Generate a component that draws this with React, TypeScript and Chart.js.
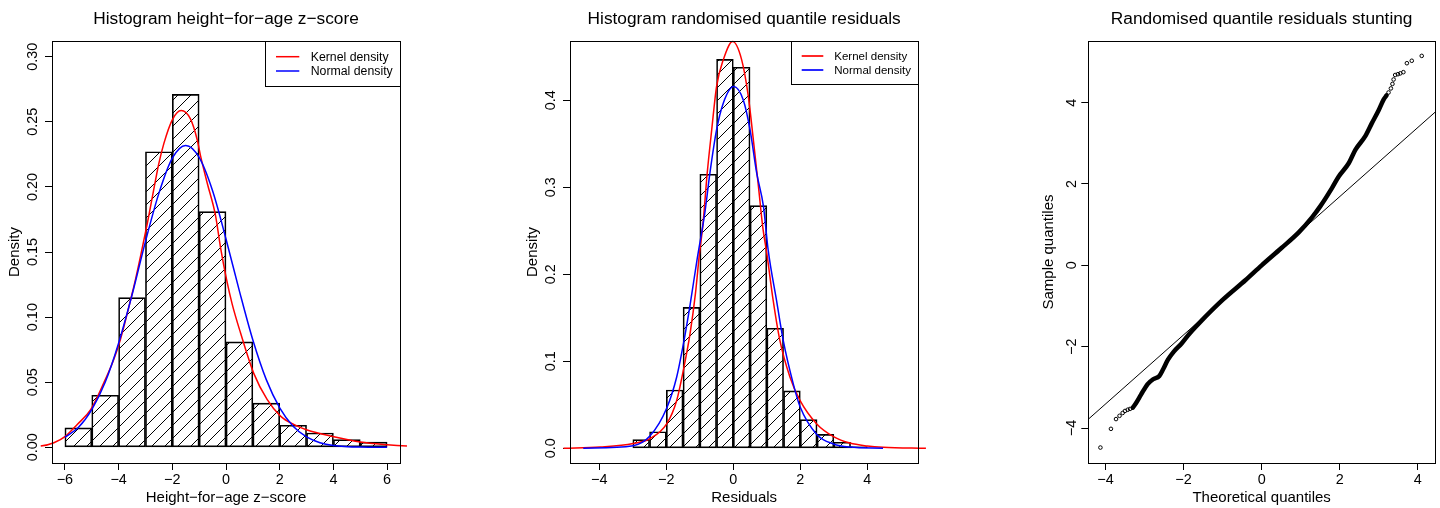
import React, { useEffect, useRef } from "react";
import { Chart, registerables } from "chart.js";

Chart.register(...registerables);

const FONT = "'Liberation Sans', Arial, Helvetica, sans-serif";

// ---------------- Panel 1: height-for-age z-score ----------------
const hazBreaks = [-6, -5, -4, -3, -2, -1, 0, 1, 2, 3, 4, 5, 6];
const hazDensity = [0.015, 0.04, 0.115, 0.227, 0.271, 0.181, 0.081, 0.034, 0.017, 0.011, 0.006, 0.004];
const hazKernelX = [-7.6, -6.9, -6.41, -5.97, -5.54, -5.04, -4.55, -4.18, -3.93, -3.55, -3.37, -3.18, -2.93, -2.69, -2.5, -2.31, -2.0, -1.67, -1.32, -1.07, -0.95, -0.7, -0.39, -0.2, 0.02, 0.23, 0.54, 1.03, 1.53, 2.03, 2.52, 3.02, 4.01, 5.0, 6.0, 6.74, 7.57];
const hazKernelY = [0.0003, 0.001, 0.0036, 0.0087, 0.0176, 0.029, 0.0496, 0.0675, 0.083, 0.1135, 0.129, 0.147, 0.172, 0.198, 0.218, 0.2336, 0.2515, 0.2586, 0.252, 0.236, 0.224, 0.203, 0.178, 0.153, 0.129, 0.11, 0.088, 0.057, 0.0368, 0.024, 0.0176, 0.0133, 0.0082, 0.0041, 0.002, 0.001, 0.0005];
const hazNormalX = [-6.0, -5.5, -5.0, -4.5, -4.0, -3.5, -3.0, -2.5, -2.0, -1.5, -1.0, -0.5, 0.0, 0.5, 1.0, 1.5, 2.0, 2.5, 3.0, 3.5, 4.0, 5.0, 6.0];
const hazNormalY = [0.0078, 0.0152, 0.029, 0.05, 0.08, 0.117, 0.158, 0.195, 0.222, 0.2318, 0.2226, 0.197, 0.16, 0.12, 0.0824, 0.052, 0.0304, 0.0162, 0.008, 0.0036, 0.0015, 0.0002, 0.00002];
const hazXTicks = [-6, -4, -2, 0, 2, 4, 6];
const hazXLabels = ["\u22126", "\u22124", "\u22122", "0", "2", "4", "6"];
const hazYTicks = [0, 0.05, 0.1, 0.15, 0.2, 0.25, 0.3];
const hazYLabels = ["0.00", "0.05", "0.10", "0.15", "0.20", "0.25", "0.30"];

// ---------------- Panel 2: randomised quantile residuals ----------------
const resBreaks = [-3, -2.5, -2, -1.5, -1, -0.5, 0, 0.5, 1, 1.5, 2, 2.5, 3, 3.5, 4];
const resDensity = [0.01, 0.019, 0.067, 0.162, 0.315, 0.447, 0.438, 0.279, 0.138, 0.066, 0.033, 0.016, 0.007, 0.002];
const resKernelX = [-5.07, -3.98, -2.99, -2.49, -1.99, -1.69, -1.49, -1.29, -1.13, -1.01, -0.91, -0.78, -0.645, -0.5, -0.3, -0.02, 0.25, 0.45, 0.6, 0.75, 0.88, 1.0, 1.19, 1.39, 1.69, 1.99, 2.49, 2.99, 3.48, 4.0, 4.47, 5.75];
const resKernelY = [0.0, 0.0015, 0.0054, 0.011, 0.028, 0.055, 0.09, 0.132, 0.178, 0.224, 0.256, 0.316, 0.366, 0.4158, 0.4465, 0.4676, 0.4465, 0.404, 0.354, 0.301, 0.254, 0.224, 0.17, 0.124, 0.082, 0.055, 0.028, 0.0135, 0.006, 0.0027, 0.0012, 0.0];
const resNormalX = [-4.48, -2.99, -2.49, -1.99, -1.69, -1.49, -1.29, -1.09, -0.845, -0.7, -0.5, -0.3, 0.01, 0.3, 0.5, 0.7, 0.9, 1.04, 1.29, 1.49, 1.79, 1.99, 2.49, 2.99, 3.48, 4.47];
const resNormalY = [0.0, 0.003, 0.014, 0.046, 0.082, 0.12, 0.165, 0.215, 0.272, 0.316, 0.366, 0.3967, 0.4158, 0.4, 0.366, 0.316, 0.278, 0.228, 0.17, 0.124, 0.074, 0.048, 0.016, 0.005, 0.0014, 0.0];
const resXTicks = [-4, -2, 0, 2, 4];
const resXLabels = ["\u22124", "\u22122", "0", "2", "4"];
const resYTicks = [0, 0.1, 0.2, 0.3, 0.4];
const resYLabels = ["0.0", "0.1", "0.2", "0.3", "0.4"];

// ---------------- Panel 3: QQ plot ----------------
const qqBandX = [-3.3, -3.22, -3.09, -2.92, -2.78, -2.62, -2.52, -2.4, -2.25, -2.05, -1.85, -1.6, -1.0, -0.41, 0.0, 0.5, 0.95, 1.29, 1.5, 1.8, 1.97, 2.23, 2.4, 2.65, 2.82, 3.0, 3.12, 3.2];
const qqBandY = [-3.5, -3.39, -3.18, -2.92, -2.8, -2.72, -2.55, -2.32, -2.12, -1.92, -1.68, -1.42, -0.85, -0.36, 0.0, 0.42, 0.81, 1.18, 1.45, 1.9, 2.18, 2.51, 2.84, 3.17, 3.49, 3.82, 4.07, 4.18];
const qqTailX = [-4.13, -3.86, -3.73, -3.64, -3.56, -3.5, -3.43, -3.37, 3.25, 3.31, 3.35, 3.38, 3.42, 3.49, 3.55, 3.63, 3.72, 3.845, 4.1];
const qqTailY = [-4.48, -4.02, -3.78, -3.7, -3.63, -3.58, -3.55, -3.53, 4.25, 4.35, 4.46, 4.57, 4.68, 4.7, 4.72, 4.75, 4.97, 5.03, 5.15];
const qqLineX = [-4.6, 4.6];
const qqLineY = [-3.92, 3.9];
const qqXTicks = [-4, -2, 0, 2, 4];
const qqXLabels = ["\u22124", "\u22122", "0", "2", "4"];
const qqYTicks = [-4, -2, 0, 2, 4];
const qqYLabels = ["\u22124", "\u22122", "0", "2", "4"];

const legendLabels = ["Kernel density", "Normal density"];
const legendColors = ["#ff0000", "#0000ff"];

const zip = (xs: number[], ys: number[]) => xs.map((x, i) => ({ x, y: ys[i] }));

function makeHatch(): any {
  const s = 13;
  const t = document.createElement("canvas");
  t.width = s;
  t.height = s;
  const g = t.getContext("2d");
  if (!g) return "rgba(0,0,0,0)";
  g.strokeStyle = "#000";
  g.lineWidth = 1;
  g.beginPath();
  for (const k of [-1, 0, 1]) {
    g.moveTo(-1, s + k * s + 1);
    g.lineTo(s + 1, k * s - 1);
  }
  g.stroke();
  return g.createPattern(t, "repeat") || "rgba(0,0,0,0)";
}

const rDecor = {
  id: "rDecor",
  afterDraw(chart: any, _args: any, o: any) {
    if (!o || !o.title) return;
    const { ctx, chartArea: a } = chart;
    ctx.save();
    if (o.legend) {
      const L = o.legend;
      const bx = a.right - L.w;
      const by = a.top;
      ctx.fillStyle = "#fff";
      ctx.fillRect(bx, by, L.w, L.h);
      ctx.strokeStyle = "#000";
      ctx.lineWidth = 1;
      ctx.strokeRect(Math.round(bx) + 0.5, Math.round(by) + 0.5, Math.round(L.w), Math.round(L.h));
      legendLabels.forEach((lab, i) => {
        const yy = by + L.rowY[i];
        ctx.strokeStyle = legendColors[i];
        ctx.lineWidth = L.lw;
        ctx.beginPath();
        ctx.moveTo(bx + L.x0, yy);
        ctx.lineTo(bx + L.x1, yy);
        ctx.stroke();
        ctx.fillStyle = "#000";
        ctx.font = `${L.size}px ${FONT}`;
        ctx.textAlign = "left";
        ctx.textBaseline = "middle";
        ctx.fillText(lab, bx + L.tx, yy + 0.5);
      });
    }
    ctx.strokeStyle = "#000";
    ctx.lineWidth = 1;
    ctx.strokeRect(
      Math.round(a.left) + 0.5,
      Math.round(a.top) + 0.5,
      Math.round(a.right) - Math.round(a.left),
      Math.round(a.bottom) - Math.round(a.top)
    );
    ctx.fillStyle = "#000";
    ctx.font = `17.3px ${FONT}`;
    ctx.textAlign = "center";
    ctx.textBaseline = "alphabetic";
    ctx.fillText(o.title, (a.left + a.right) / 2, 23.5);
    const ys = chart.scales.y;
    ctx.font = `14.4px ${FONT}`;
    o.yTicks.forEach((v: number, i: number) => {
      const py = ys.getPixelForValue(v);
      ctx.save();
      ctx.translate(a.left - o.yGap, py);
      ctx.rotate(-Math.PI / 2);
      ctx.textAlign = "center";
      ctx.textBaseline = "alphabetic";
      ctx.fillText(o.yLabels[i], 0, 0);
      ctx.restore();
    });
    ctx.restore();
  },
};

function xScale(min: number, max: number, ticks: number[], labels: string[], title: string) {
  return {
    type: "linear",
    min,
    max,
    offset: false,
    afterBuildTicks: (s: any) => {
      s.ticks = ticks.map((v) => ({ value: v }));
    },
    afterFit: (s: any) => {
      s.height = 45;
    },
    grid: { display: true, drawOnChartArea: false, drawTicks: true, tickLength: 7, color: "#000", lineWidth: 1, offset: false },
    border: { display: false },
    ticks: {
      autoSkip: false,
      maxRotation: 0,
      minRotation: 0,
      padding: 1,
      color: "#000",
      font: { family: FONT, size: 14.4 },
      callback: (_v: any, i: number) => labels[i],
    },
    title: { display: true, text: title, color: "#000", font: { family: FONT, size: 15 }, padding: { top: 0, bottom: 1 } },
  };
}

function yScale(min: number, max: number, ticks: number[], width: number, title: string, titlePad: number) {
  return {
    type: "linear",
    min,
    max,
    afterBuildTicks: (s: any) => {
      s.ticks = ticks.map((v) => ({ value: v }));
    },
    afterFit: (s: any) => {
      s.width = width;
    },
    grid: { display: true, drawOnChartArea: false, drawTicks: true, tickLength: 7, color: "#000", lineWidth: 1 },
    border: { display: false },
    ticks: { autoSkip: false, color: "rgba(0,0,0,0)", font: { family: FONT, size: 14.4 } },
    title: { display: true, text: title, color: "#000", font: { family: FONT, size: 15 }, padding: { top: titlePad, bottom: 0 } },
  };
}

function baseOptions(padRight: number, decor: any, scales: any) {
  return {
    responsive: false,
    animation: false,
    devicePixelRatio: 1,
    events: [],
    layout: { padding: { top: 41, right: padRight, bottom: 0, left: 0 } },
    plugins: {
      legend: { display: false },
      tooltip: { enabled: false },
      title: { display: false },
      rDecor: decor,
    },
    scales,
  };
}

function histConfig(
  breaks: number[],
  dens: number[],
  kx: number[],
  ky: number[],
  nx: number[],
  ny: number[],
  opts: any
) {
  const hatch = makeHatch();
  const bars = dens.map((d, i) => ({ x: (breaks[i] + breaks[i + 1]) / 2, y: d }));
  return {
    type: "bar",
    data: {
      datasets: [
        {
          type: "bar",
          data: bars,
          backgroundColor: hatch,
          borderColor: "#000",
          borderWidth: 1,
          borderSkipped: false,
          barPercentage: 1,
          categoryPercentage: 1,
          order: 3,
        },
        {
          type: "line",
          data: zip(kx, ky),
          borderColor: "#ff0000",
          borderWidth: 1.5,
          pointRadius: 0,
          cubicInterpolationMode: "monotone",
          clip: false,
          order: 2,
        },
        {
          type: "line",
          data: zip(nx, ny),
          borderColor: "#0000ff",
          borderWidth: 1.5,
          pointRadius: 0,
          cubicInterpolationMode: "monotone",
          clip: false,
          order: 1,
        },
      ],
    },
    options: opts,
  };
}

function buildHaz() {
  return histConfig(
    hazBreaks,
    hazDensity,
    hazKernelX,
    hazKernelY,
    hazNormalX,
    hazNormalY,
    baseOptions(
      80,
      {
        title: "Histogram height\u2212for\u2212age z\u2212score",
        yTicks: hazYTicks,
        yLabels: hazYLabels,
        yGap: 15.3,
        legend: { w: 135, h: 45, x0: 11, x1: 34.3, rowY: [15.7, 30], tx: 45.7, size: 12.3, lw: 1.5 },
      },
      {
        x: xScale(-6.48, 6.48, hazXTicks, hazXLabels, "Height\u2212for\u2212age z\u2212score"),
        y: yScale(-0.012, 0.312, hazYTicks, 52, "Density", 5.8),
      }
    )
  );
}

function buildRes() {
  return histConfig(
    resBreaks,
    resDensity,
    resKernelX,
    resKernelY,
    resNormalX,
    resNormalY,
    baseOptions(
      41.7,
      {
        title: "Histogram randomised quantile residuals",
        yTicks: resYTicks,
        yLabels: resYLabels,
        yGap: 15,
        legend: { w: 127.3, h: 43.3, x0: 10.7, x1: 32.3, rowY: [15, 29], tx: 43.3, size: 11.5, lw: 1.7 },
      },
      {
        x: xScale(-4.875, 5.522, resXTicks, resXLabels, "Residuals"),
        y: yScale(-0.0169, 0.4682, resYTicks, 90, "Density", 44.1),
      }
    )
  );
}

function buildQQ() {
  return {
    type: "scatter",
    data: {
      datasets: [
        {
          type: "line",
          data: zip(qqLineX, qqLineY),
          borderColor: "#000",
          borderWidth: 1,
          pointRadius: 0,
          showLine: true,
          order: 3,
        },
        {
          type: "line",
          data: zip(qqBandX, qqBandY),
          borderColor: "#000",
          borderWidth: 4.5,
          pointRadius: 0,
          showLine: true,
          cubicInterpolationMode: "monotone",
          borderJoinStyle: "round",
          borderCapStyle: "round",
          order: 2,
        },
        {
          type: "scatter",
          data: zip(qqTailX, qqTailY),
          pointRadius: 1.8,
          pointBorderWidth: 1,
          pointBackgroundColor: "rgba(0,0,0,0)",
          pointBorderColor: "#000",
          showLine: false,
          order: 1,
        },
      ],
    },
    options: baseOptions(
      4,
      {
        title: "Randomised quantile residuals stunting",
        yTicks: qqYTicks,
        yLabels: qqYLabels,
        yGap: 12.3,
      },
      {
        x: xScale(-4.44, 4.44, qqXTicks, qqXLabels, "Theoretical quantiles"),
        y: yScale(-4.86, 5.516, qqYTicks, 128.3, "Sample quantiles", 80.3),
      }
    ),
  };
}

function Panel({ build, left }: { build: () => any; left: number }) {
  const ref = useRef<HTMLCanvasElement>(null);
  useEffect(() => {
    const c = ref.current;
    if (!c) return;
    const chart = new Chart(c, { ...build(), plugins: [rDecor] } as any);
    return () => chart.destroy();
  }, []);
  return (
    <canvas
      ref={ref}
      width={480}
      height={508}
      style={{ position: "absolute", left, top: 0, width: 480, height: 508, display: "block" }}
    />
  );
}

export default function App() {
  return (
    <div style={{ position: "absolute", left: 0, top: 0, width: 1440, height: 508, background: "#fff", overflow: "hidden" }}>
      <Panel build={buildHaz} left={0} />
      <Panel build={buildRes} left={480} />
      <Panel build={buildQQ} left={960} />
    </div>
  );
}
